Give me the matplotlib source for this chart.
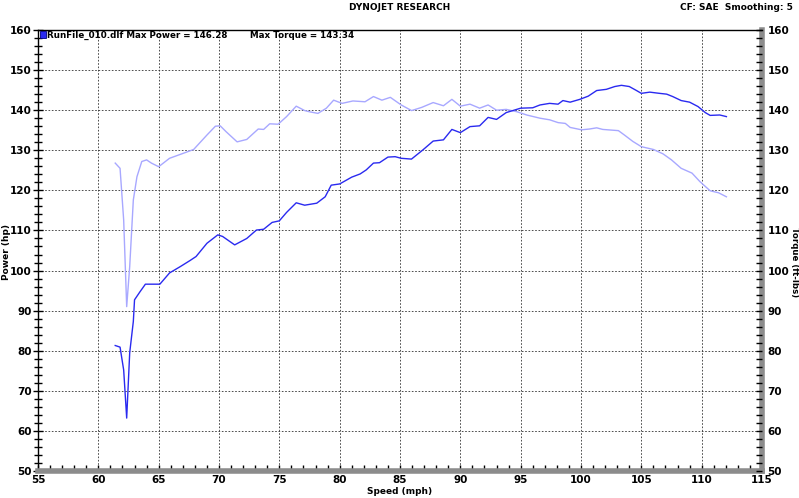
import matplotlib
matplotlib.use("Agg")
import matplotlib.pyplot as plt
from matplotlib.ticker import MultipleLocator

# speed (mph) and power (hp)
power_speed = [61.4, 61.8, 62.1, 62.35, 62.6, 62.9, 63.0, 63.45, 63.9, 64.4, 65.1, 65.9,
               66.8, 67.6, 68.1, 69.0, 69.9, 70.3, 71.3, 72.3, 73.1, 73.7, 74.4, 75.0,
               75.6, 76.4, 77.1, 78.1, 78.8, 79.3, 80.0, 81.0, 81.7, 82.2, 82.8, 83.3,
               84.0, 84.6, 85.1, 85.95, 86.9, 87.75, 88.6, 89.3, 90.0, 90.8, 91.6, 92.3,
               93.0, 93.8, 95.0, 96.0, 96.6, 97.4, 98.1, 98.5, 99.1, 99.9, 100.6, 101.3,
               102.1, 102.8, 103.35, 104.0, 104.6, 105.0, 105.7, 106.5, 107.1, 107.6,
               108.3, 109.0, 109.7, 110.3, 110.7, 111.5, 112.05]
power_hp = [81.3, 80.9, 75.2, 63.2, 79.5, 87.3, 92.7, 94.7, 96.6, 96.6, 96.6, 99.4,
            101.0, 102.5, 103.5, 106.8, 108.9, 108.5, 106.4, 108.0, 110.1, 110.3, 112.0, 112.4,
            114.5, 116.9, 116.3, 116.8, 118.4, 121.3, 121.6, 123.3, 124.1, 125.1, 126.8, 126.9,
            128.3, 128.4, 128.0, 127.8, 130.1, 132.3, 132.6, 135.2, 134.4, 135.9, 136.1, 138.2,
            137.7, 139.4, 140.5, 140.6, 141.3, 141.7, 141.5, 142.4, 142.0, 142.7, 143.5, 144.9,
            145.2, 145.9, 146.2, 145.9, 144.9, 144.2, 144.5, 144.2, 144.0, 143.4,
            142.4, 142.0, 140.9, 139.4, 138.7, 138.8, 138.4]

# speed (mph) and torque (ft-lbs)
torque_speed = [61.4, 61.8, 62.1, 62.35, 62.6, 62.9, 63.2, 63.6, 64.0, 64.4, 65.0, 65.9,
                67.0, 67.9, 69.0, 69.7, 70.1, 70.6, 71.5, 72.3, 73.25, 73.7, 74.2, 74.9,
                75.6, 76.4, 77.1, 77.5, 78.2, 78.9, 79.5, 80.2, 81.1, 82.1, 82.8, 83.5,
                84.2, 85.1, 85.96, 86.8, 87.75, 88.6, 89.3, 90.0, 90.8, 91.6, 92.3, 93.0,
                93.8, 94.7, 95.5, 96.6, 97.4, 98.1, 98.7, 99.1, 100.05, 100.7, 101.3, 101.8,
                103.1, 103.6, 104.3, 105.0, 106.0, 106.8, 107.5, 108.3, 109.2, 109.85,
                110.7, 111.4, 112.05]
torque_ftlb = [126.8, 125.5, 112.6, 91.0, 101.0, 117.6, 123.4, 127.2, 127.6, 126.8, 125.9, 128.0,
               129.2, 130.2, 133.8, 136.0, 136.1, 134.6, 132.1, 132.7, 135.3, 135.2, 136.6, 136.5,
               138.4, 141.0, 139.9, 139.6, 139.2, 140.5, 142.5, 141.7, 142.3, 142.1, 143.4, 142.5,
               143.2, 141.3, 139.9, 140.7, 141.9, 141.1, 142.7, 141.0, 141.5, 140.5, 141.3, 140.0,
               140.2, 139.6, 138.8, 138.0, 137.6, 136.9, 136.7, 135.7, 135.1, 135.3, 135.6, 135.2,
               134.9, 133.8, 132.2, 130.9, 130.2, 129.1, 127.6, 125.5, 124.3, 122.2,
               119.9, 119.4, 118.4]

run_name = "RunFile_010.dlf"
max_power = 146.28
max_torque = 143.34

plt.rcParams['font.family'] = ['DejaVu Sans']
plt.rcParams['font.weight'] = 'bold'

fig = plt.figure(figsize=(7.99, 4.98), dpi=100)
ax = fig.add_axes([38 / 799, 1 - 471 / 498, (762 - 38) / 799, (471 - 30) / 498])

ax.plot(torque_speed, torque_ftlb, color='#a8a8ff', lw=1.0, zorder=3)
ax.plot(power_speed, power_hp, color='#2a2af0', lw=1.0, zorder=4)

ax.set_xlim(55, 115)
ax.set_ylim(50, 160)
ax.xaxis.set_major_locator(MultipleLocator(5))
ax.xaxis.set_minor_locator(MultipleLocator(1))
ax.yaxis.set_major_locator(MultipleLocator(10))
ax.yaxis.set_minor_locator(MultipleLocator(2))
ax.grid(True, which='major', color='#303030', linestyle=(0, (2, 2)), lw=0.6)

for s in ['top', 'left']:
    ax.spines[s].set_color('black')
    ax.spines[s].set_linewidth(1.0)
ax.spines['bottom'].set_color('#8c8c8c')
ax.spines['bottom'].set_linewidth(4)
ax.spines['right'].set_color('#8c8c8c')
ax.spines['right'].set_linewidth(4)

ax.tick_params(axis='y', which='major', direction='inout', length=7, width=1, labelsize=7.5, pad=1)
ax.tick_params(axis='y', which='minor', direction='inout', length=6, width=1)
ax.tick_params(axis='x', which='both', direction='in', length=4, width=1, labelsize=7.5, pad=3)

ax2 = ax.twinx()
ax2.set_ylim(50, 160)
ax2.yaxis.set_major_locator(MultipleLocator(10))
ax2.yaxis.set_minor_locator(MultipleLocator(2))
ax2.tick_params(axis='y', which='both', direction='in', length=4, width=1, labelsize=7.5, pad=4)
for s in ax2.spines.values():
    s.set_visible(False)

fig.text(7 / 799, 1 - 252 / 498, "Power (hp)", rotation=90, ha='center', va='center',
         fontsize=6.5, fontweight='bold')
fig.text(794 / 799, 1 - 262 / 498, "Torque (ft-lbs)", rotation=-90, ha='center', va='center',
         fontsize=6.2, fontweight='bold')
ax.set_xlabel("Speed (mph)", fontsize=6.5, fontweight='bold', labelpad=1)

fig.text(400 / 799, 1 - 8 / 498, "DYNOJET RESEARCH", ha='center', va='center', fontsize=6.5, fontweight='bold')
fig.text(793 / 799, 1 - 8 / 498, "CF: SAE  Smoothing: 5", ha='right', va='center', fontsize=6.5, fontweight='bold')

# legend entry
ax.add_patch(plt.Rectangle((40 / 799, 1 - 38 / 498), 6 / 799, 7 / 498, transform=fig.transFigure,
                           facecolor='#2a2af0', edgecolor='#000080', lw=0.6, clip_on=False, zorder=5))
fig.text(47 / 799, 1 - 35 / 498, f"{run_name} Max Power = {max_power:.2f}",
         ha='left', va='center', fontsize=6.3, fontweight='bold')
fig.text(250 / 799, 1 - 35 / 498, f"Max Torque = {max_torque:.2f}",
         ha='left', va='center', fontsize=6.3, fontweight='bold')

fig.savefig("out.png", dpi=100)
